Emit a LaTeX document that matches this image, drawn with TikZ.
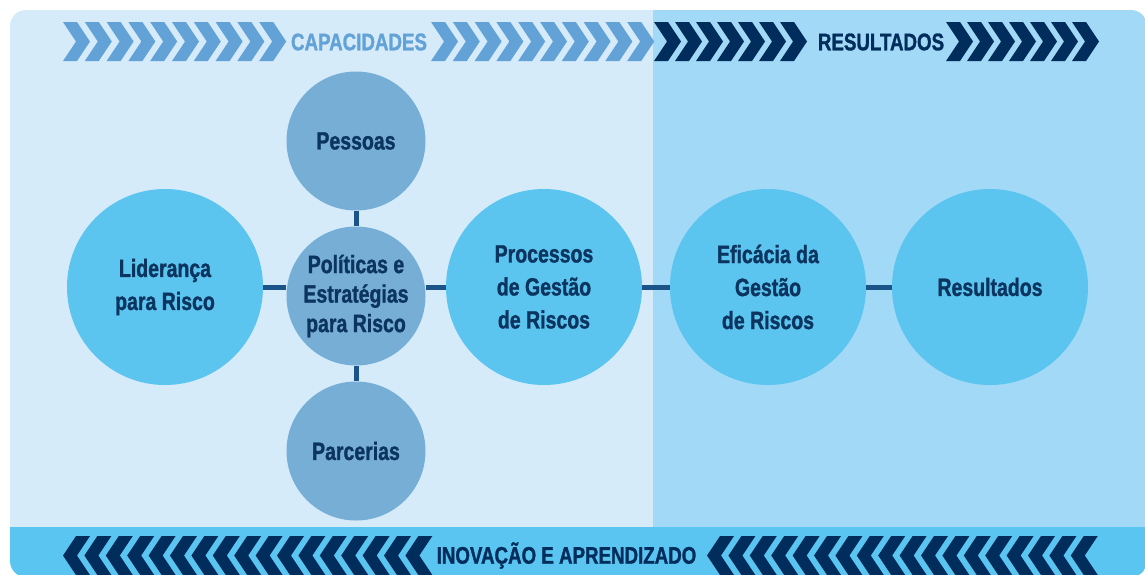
\documentclass[tikz,border=0pt]{standalone}
\usepackage{fontspec}
\setmainfont{Liberation Sans}
\newfontfamily\condfont[FakeStretch=0.78,FakeBold=1.2]{Liberation Sans}

\definecolor{paneleft}{HTML}{D5EBFA}
\definecolor{paneright}{HTML}{A2D9F6}
\definecolor{bandblue}{HTML}{5BC5F1}
\definecolor{bigfill}{HTML}{5BC4EF}
\definecolor{smallfill}{HTML}{77AED6}
\definecolor{chevlight}{HTML}{62A2D6}
\definecolor{chevdark}{HTML}{002D5B}
\definecolor{navytext}{HTML}{0B355F}
\definecolor{linkblue}{HTML}{1A5488}

\newcommand{\bigfont}{\condfont\bfseries\fontsize{25}{33}\selectfont}
\newcommand{\smallfont}{\condfont\bfseries\fontsize{25}{29.5}\selectfont}
\newcommand{\bannerfont}{\condfont\bfseries\fontsize{24}{28}\selectfont}

\tikzstyle{big vertex}=[circle,fill=bigfill,minimum size=196pt,inner sep=0pt,align=center,text=navytext,font=\bigfont]
\tikzstyle{small vertex}=[circle,fill=smallfill,minimum size=139pt,inner sep=0pt,align=center,text=navytext,font=\smallfont]
\tikzstyle{edge}=[draw,line width=5pt,linkblue]
\tikzstyle{light chevron}=[fill=chevlight]
\tikzstyle{dark chevron}=[fill=chevdark]
\tikzstyle{banner}=[inner sep=0pt,font=\bannerfont]

\begin{document}
\begin{tikzpicture}[x=1pt,y=-1pt]
     \useasboundingbox (0,0) rectangle (1145,574);
     % Panels behind everything
     \begin{scope}
       \clip[rounded corners=16pt] (10,10) rectangle (1147,577);
       \fill[paneleft] (10,10) rectangle (653,527);
       \fill[paneright] (653,10) rectangle (1147,527);
       \fill[bandblue] (10,527) rectangle (1147,577);
     \end{scope}

     % Chevrons on top, pointing right
     \foreach \i in {0,...,9}
       \fill[light chevron] ({63+21.8*\i},22) -- ++(14,0) -- ++(13,19.5) -- ++(-13,19.5) -- ++(-14,0) -- ++(13,-19.5) -- cycle;
     \foreach \i in {0,...,9}
       \fill[light chevron] ({431+21.8*\i},22) -- ++(14,0) -- ++(13,19.5) -- ++(-13,19.5) -- ++(-14,0) -- ++(13,-19.5) -- cycle;
     \foreach \xs in {654,946}
       \foreach \i in {0,...,6}
         \fill[dark chevron] ({\xs+21*\i},22) -- ++(14,0) -- ++(13,19.5) -- ++(-13,19.5) -- ++(-14,0) -- ++(13,-19.5) -- cycle;

     % Chevrons in the band, pointing left
     \foreach \xs/\n in {63/16,707/17}
       \foreach \i in {0,...,\n}
         \fill[dark chevron] ({\xs+21.4*\i},555.5) -- ++(13,-19.5) -- ++(14,0) -- ++(-13,19.5) -- ++(13,19.5) -- ++(-14,0) -- cycle;

     \node[banner,text=chevlight] (cap) at (359,42) {CAPACIDADES};
     \node[banner,text=chevdark] (resl) at (881,42) {RESULTADOS};
     \node[banner,text=chevdark] (inov) at (566.5,555.5) {INOVAÇÃO E APRENDIZADO};

     % Then the circles
     \foreach \pos/\name/\txt in {{(165,287)/lid/Liderança\\para Risco},
       {(544,287)/proc/Processos\\de Gestão\\de Riscos},
       {(768,287)/efi/Eficácia da\\Gestão\\de Riscos},
       {(990,287)/res/Resultados}}
     \node[big vertex] (\name) at \pos {\txt};

     \foreach \pos/\name/\txt in {{(356,141)/pes/Pessoas},
       {(356,296)/pol/Políticas e\\Estratégias\\para Risco},
       {(356,451)/par/Parcerias}}
     \node[small vertex] (\name) at \pos {\txt};

     % Connect circles
     \path[edge] (lid.east) -- (lid.east -| pol.west);
     \path[edge] (pol.east |- proc.west) -- (proc.west);
     \foreach \source/\dest in {proc/efi,efi/res}
     \path[edge] (\source) -- (\dest);
     \foreach \source/\dest in {pes/pol,pol/par}
     \path[edge] (\source) -- (\dest);
\end{tikzpicture}
\end{document}
